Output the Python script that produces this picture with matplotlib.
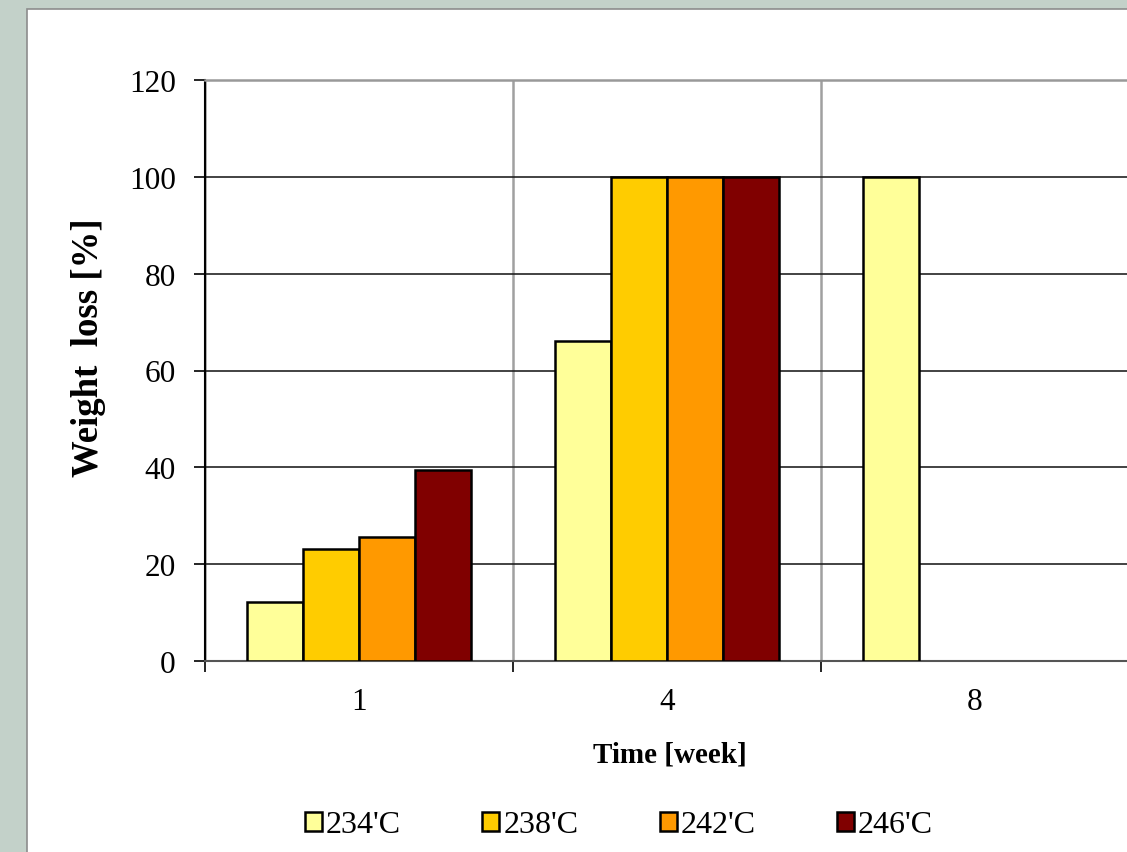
import matplotlib.pyplot as plt
import numpy as np
from matplotlib.patches import Rectangle

# weight loss per week for each temperature
weeks = ['1', '4', '8']
temps = ["234'C", "238'C", "242'C", "246'C"]
loss_234 = [12.2, 66.1, 100]
loss_238 = [23.1, 100, 0]
loss_242 = [25.7, 100, 0]
loss_246 = [39.4, 100, 0]
colors = ['#ffff99', '#ffcc00', '#ff9900', '#800000']

plt.rcParams['font.family'] = ['Liberation Serif', 'DejaVu Serif']

fig = plt.figure(figsize=(11.27, 8.53), dpi=100)
fig.patch.set_facecolor('#c3d1c9')

# white chart panel behind the axes
fig.patches.append(Rectangle((27 / 1127, -0.01), 1.0, (853 - 10) / 853 + 0.01,
                             transform=fig.transFigure, facecolor='white',
                             edgecolor='#8c8c8c', linewidth=1.2, zorder=-5))

ax = fig.add_axes([205 / 1127, (853 - 662) / 853, 924 / 1127, (662 - 81) / 853])
ax.set_facecolor('white')

x = np.arange(len(weeks))
w = 0.182
series = [loss_234, loss_238, loss_242, loss_246]
for i, (vals, c, lab) in enumerate(zip(series, colors, temps)):
    pos = x + (i - 1.5) * w
    vals = np.array(vals, dtype=float)
    keep = vals > 0
    ax.bar(pos[keep], vals[keep], width=w, color=c, edgecolor='black',
           linewidth=1.8, label=lab, zorder=3)

ax.set_xlim(-0.5, 2.5)
ax.set_ylim(0, 120)
ax.set_yticks(range(0, 121, 20))
ax.set_xticks(x)
ax.set_xticklabels(weeks)
ax.set_xticks([-0.5, 0.5, 1.5, 2.5], minor=True)

ax.tick_params(axis='y', direction='out', length=8, width=1.2, pad=13,
               labelsize=22.5, color='black')
ax.tick_params(axis='x', which='major', length=0, pad=19, labelsize=22.5)
ax.tick_params(axis='x', which='minor', direction='out', length=8, width=1.2,
               color='black')

# horizontal and category grid lines
ax.yaxis.grid(True, color='#222222', linewidth=1.2, zorder=1)
ax.xaxis.grid(True, which='minor', color='#a0a0a0', linewidth=1.8, zorder=1)
ax.xaxis.grid(False, which='major')
ax.set_axisbelow(True)

ax.spines['left'].set_color('black')
ax.spines['left'].set_linewidth(1.5)
ax.spines['bottom'].set_color('#555555')
ax.spines['bottom'].set_linewidth(1.5)
ax.spines['top'].set_color('#999999')
ax.spines['top'].set_linewidth(1.8)
ax.spines['right'].set_visible(False)

fig.text(89 / 1127, 1 - 348 / 853, 'Weight  loss [%]', rotation=90,
         ha='center', va='center', fontsize=26.5, fontweight='bold')
fig.text(670 / 1127, 1 - 755 / 853, 'Time [week]', ha='center', va='center',
         fontsize=21, fontweight='bold')

fig.legend(loc='center', bbox_to_anchor=(619 / 1127, 1 - 826 / 853), ncol=4,
           frameon=False, fontsize=23, handlelength=0.53, handleheight=0.53,
           handletextpad=0.12, columnspacing=2.55)

fig.savefig('out.png', dpi=100, facecolor=fig.get_facecolor())
